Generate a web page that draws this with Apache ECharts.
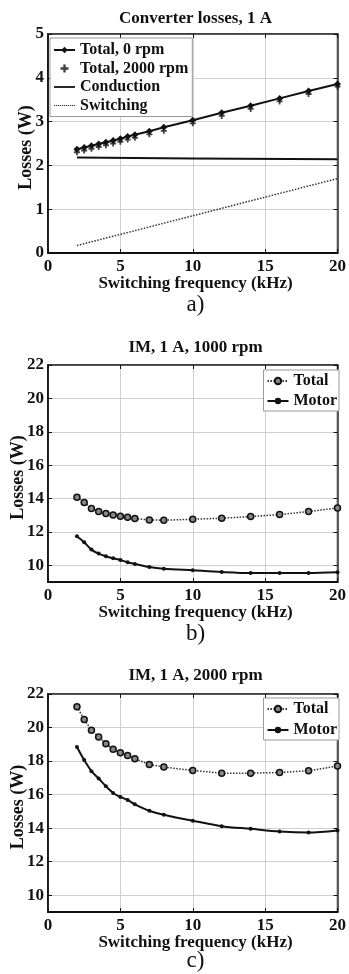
<!DOCTYPE html>
<html><head><meta charset="utf-8">
<script src="https://cdn.jsdelivr.net/npm/echarts@6/dist/echarts.min.js"></script>
<style>html,body{margin:0;padding:0;background:#fff}#c{width:349px;height:974px}</style>
</head><body><div id="c"></div>
<script>
// ---- data ----
const freq = [2,2.5,3,3.5,4,4.5,5,5.5,6,7,8,10,12,14,16,18,20];
const convTotal0 = [2.37,2.41,2.45,2.49,2.53,2.57,2.61,2.66,2.70,2.78,2.87,3.03,3.20,3.36,3.53,3.70,3.86];
const convTotal2000 = [2.30,2.34,2.38,2.42,2.46,2.50,2.54,2.59,2.63,2.71,2.79,2.96,3.13,3.29,3.46,3.63,3.80];
const convLineFreq = [2,10,20];
const conduction = [2.18,2.16,2.14];
const switching = [0.17,0.85,1.70];
const im1000Total = [14.08,13.76,13.40,13.22,13.10,13.02,12.94,12.88,12.80,12.72,12.70,12.76,12.82,12.92,13.04,13.22,13.44];
const im1000Motor = [11.74,11.38,10.94,10.70,10.54,10.42,10.32,10.18,10.08,9.90,9.80,9.70,9.60,9.54,9.54,9.54,9.58];
const im2000Total = [21.24,20.48,19.84,19.44,19.04,18.70,18.50,18.34,18.14,17.80,17.64,17.44,17.28,17.28,17.32,17.42,17.70];
const im2000Motor = [18.84,18.06,17.40,16.96,16.50,16.10,15.86,15.68,15.42,15.04,14.80,14.44,14.12,13.96,13.80,13.74,13.86];
const xTicks = [0,5,10,15,20];
const yTicksConv = [0,1,2,3,4,5];
const yTicksIM = [10,12,14,16,18,20,22];
const titles = ['Converter losses, 1 A','IM, 1 A, 1000 rpm','IM, 1 A, 2000 rpm'];
const subLabels = ['a)','b)','c)'];
const xName = 'Switching frequency (kHz)';
const yName = 'Losses (W)';

const pair = (xs, ys) => xs.map((x,i)=>[x, ys[i]]);
const FONT = 'Liberation Serif';
const INK = '#111';

const grids = [
  {left:48, top:34, width:295, height:219},
  {left:48, top:365, width:295, height:217},
  {left:48, top:694, width:295, height:218}
];
const titleY = [10, 339, 667];
const nameY = [275, 604, 934];
const subY = [293, 622, 949];
const yNameX = [26, 18, 18];

const yRanges = [
  {min:0, max:5, ticks:yTicksConv},
  {min:9, max:22, ticks:yTicksIM},
  {min:9, max:22, ticks:yTicksIM}
];

const xAxes = [], yAxes = [];
grids.forEach((g,i)=>{
  xAxes.push({
    type:'value', gridIndex:i, min:0, max:20, position:'bottom',
    axisLine:{show:true, onZero:false, lineStyle:{color:INK, width:1.8}},
    axisTick:{show:true, inside:true, length:4, lineStyle:{color:INK}, customValues:xTicks},
    axisLabel:{color:INK, fontFamily:FONT, fontWeight:'bold', fontSize:17, margin:5, customValues:xTicks},
    splitLine:{show:true, lineStyle:{color:'#cfcfcf', width:1}, customValues:xTicks}
  });
});
grids.forEach((g,i)=>{
  xAxes.push({
    type:'value', gridIndex:i, min:0, max:20, position:'top',
    axisLine:{show:true, onZero:false, lineStyle:{color:'#333', width:1.5}},
    axisTick:{show:true, inside:true, length:4, lineStyle:{color:INK}, customValues:xTicks},
    axisLabel:{show:false, customValues:xTicks}, splitLine:{show:false}
  });
});
grids.forEach((g,i)=>{
  const r = yRanges[i];
  yAxes.push({
    type:'value', gridIndex:i, min:r.min, max:r.max, position:'left',
    axisLine:{show:true, onZero:false, lineStyle:{color:INK, width:1.8}},
    axisTick:{show:true, inside:true, length:4, lineStyle:{color:INK}, customValues:r.ticks},
    axisLabel:{color:INK, fontFamily:FONT, fontWeight:'bold', fontSize:17, margin:4, customValues:r.ticks},
    splitLine:{show:true, lineStyle:{color:'#cfcfcf', width:1}, customValues:r.ticks}
  });
});
grids.forEach((g,i)=>{
  const r = yRanges[i];
  yAxes.push({
    type:'value', gridIndex:i, min:r.min, max:r.max, position:'right',
    axisLine:{show:true, onZero:false, lineStyle:{color:'#333', width:1.5}},
    axisTick:{show:true, inside:true, length:4, lineStyle:{color:INK}, customValues:r.ticks},
    axisLabel:{show:false, customValues:r.ticks}, splitLine:{show:false}
  });
});

const plusPath = 'path://M3.5,0 L6.5,0 L6.5,3.5 L10,3.5 L10,6.5 L6.5,6.5 L6.5,10 L3.5,10 L3.5,6.5 L0,6.5 L0,3.5 L3.5,3.5 Z';
const solidIcon = 'path://M0,3.1 L21,3.1 L21,4.9 L0,4.9 Z';
let dotted = '';
for (let k = 0; k < 21; k += 2) dotted += 'M' + k + ',3.4 L' + (k+1.2) + ',3.4 L' + (k+1.2) + ',4.6 L' + k + ',4.6 Z ';
const dottedIcon = 'path://' + dotted;

const series = [
  {name:'Total, 0 rpm', type:'line', xAxisIndex:0, yAxisIndex:0, data:pair(freq, convTotal0),
   symbol:'diamond', symbolSize:7, showAllSymbol:true,
   lineStyle:{color:INK, width:2}, itemStyle:{color:INK}, z:5},
  {name:'Total, 2000 rpm', type:'scatter', xAxisIndex:0, yAxisIndex:0, data:pair(freq, convTotal2000),
   symbol:plusPath, symbolSize:6, itemStyle:{color:INK}, z:4},
  {name:'Conduction', type:'line', xAxisIndex:0, yAxisIndex:0, data:pair(convLineFreq, conduction),
   symbol:'none', lineStyle:{color:INK, width:2}, itemStyle:{color:INK}},
  {name:'Switching', type:'line', xAxisIndex:0, yAxisIndex:0, data:pair(convLineFreq, switching),
   symbol:'none', lineStyle:{color:'#333', width:1.5, type:[1.5,1.5]}, itemStyle:{color:'#333'}},
  {name:'Total', type:'line', xAxisIndex:1, yAxisIndex:1, data:pair(freq, im1000Total),
   symbol:'circle', symbolSize:6, showAllSymbol:true,
   lineStyle:{color:'#333', width:1.5, type:[1.5,1.5]}, itemStyle:{color:'#888', borderColor:INK, borderWidth:1.5}},
  {name:'Motor', type:'line', xAxisIndex:1, yAxisIndex:1, data:pair(freq, im1000Motor), smooth:0.3,
   symbol:'circle', symbolSize:4, showAllSymbol:true,
   lineStyle:{color:INK, width:2}, itemStyle:{color:INK}},
  {name:'Total', type:'line', xAxisIndex:2, yAxisIndex:2, data:pair(freq, im2000Total),
   symbol:'circle', symbolSize:6, showAllSymbol:true,
   lineStyle:{color:'#333', width:1.5, type:[1.5,1.5]}, itemStyle:{color:'#888', borderColor:INK, borderWidth:1.5}},
  {name:'Motor', type:'line', xAxisIndex:2, yAxisIndex:2, data:pair(freq, im2000Motor), smooth:0.3,
   symbol:'circle', symbolSize:4, showAllSymbol:true,
   lineStyle:{color:INK, width:2}, itemStyle:{color:INK}}
];

const legendText = {color:INK, fontFamily:FONT, fontWeight:'bold', fontSize:16, lineHeight:16};
const legends = [
  {data:['Total, 0 rpm','Total, 2000 rpm',{name:'Conduction', icon:solidIcon},{name:'Switching', icon:dottedIcon}],
   left:50, top:38, orient:'vertical',
   itemWidth:21, itemHeight:8, itemGap:2.5, padding:[4,4,3,3], backgroundColor:'#fff', borderColor:'#999', borderWidth:1,
   textStyle:legendText, selectedMode:false, align:'left'},
  {data:['Total','Motor'], right:10, top:370, orient:'vertical',
   itemWidth:21, itemHeight:8, itemGap:4, padding:[3,2,2,3], backgroundColor:'#fff', borderColor:'#999', borderWidth:1,
   textStyle:legendText, selectedMode:false},
  {data:['Total','Motor'], right:10, top:698, orient:'vertical',
   itemWidth:21, itemHeight:8, itemGap:5, padding:[3,2,2,3], backgroundColor:'#fff', borderColor:'#999', borderWidth:1,
   textStyle:legendText, selectedMode:false}
];

const titleComps = [];
grids.forEach((g,i)=>{
  titleComps.push({text:titles[i], left:195.5, top:titleY[i], textAlign:'center', padding:0,
    textStyle:{color:INK, fontFamily:FONT, fontWeight:'bold', fontSize:17}});
  titleComps.push({text:xName, left:195.5, top:nameY[i], textAlign:'center', padding:0,
    textStyle:{color:INK, fontFamily:FONT, fontWeight:'bold', fontSize:17}});
  titleComps.push({text:subLabels[i], left:195.5, top:subY[i], textAlign:'center', padding:0,
    textStyle:{color:INK, fontFamily:FONT, fontWeight:'normal', fontSize:23}});
});

const graphics = grids.map((g,i)=>({
  type:'text', rotation:Math.PI/2, x:yNameX[i], y:g.top + g.height/2 + 4,
  style:{text:yName, fill:INK, font:'bold 18px "Liberation Serif"', textAlign:'center', textVerticalAlign:'middle'}
}));

const chart = echarts.init(document.getElementById('c'), null, {renderer:'canvas'});
chart.setOption({
  animation:false,
  backgroundColor:'#fff',
  title:titleComps,
  legend:legends,
  grid:grids.map(g=>Object.assign({show:true, borderColor:'#333', borderWidth:1.5, backgroundColor:'transparent'}, g)),
  xAxis:xAxes,
  yAxis:yAxes,
  series:series,
  graphic:graphics
});
</script>
</body></html>
